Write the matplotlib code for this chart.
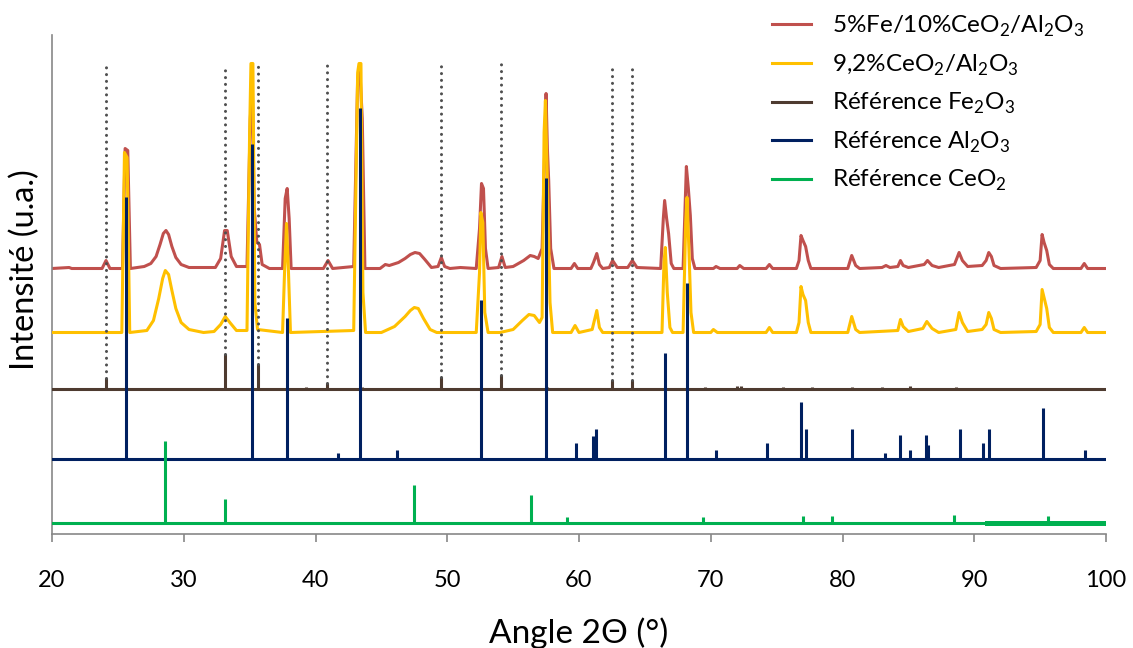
import matplotlib
matplotlib.use("Agg")
import matplotlib.pyplot as plt
import numpy as np

plt.rcParams['font.family'] = ['Lato', 'DejaVu Sans']

# ---------------- data ----------------
labels = ["5%Fe/10%CeO$_\\mathregular{2}$/Al$_\\mathregular{2}$O$_\\mathregular{3}$",
          "9,2%CeO$_\\mathregular{2}$/Al$_\\mathregular{2}$O$_\\mathregular{3}$",
          "Référence Fe$_\\mathregular{2}$O$_\\mathregular{3}$",
          "Référence Al$_\\mathregular{2}$O$_\\mathregular{3}$",
          "Référence CeO$_\\mathregular{2}$"]

# vertical offsets of each pattern (arbitrary units)
off_red, off_yel, off_fe, off_al, off_ce = 265, 201, 145, 75, 11

red_x = [20, 21.3, 21.5, 23.8, 24.1, 24.4, 25.35, 25.55, 25.75, 25.95, 27.0, 27.5, 27.9, 28.2, 28.45,
         28.65, 28.85, 29.1, 29.4, 29.8, 30.4, 32.4, 32.8, 33.1, 33.3, 33.6, 34.0, 34.8, 35.05, 35.2,
         35.35, 35.55, 35.75, 35.95, 36.5, 37.5, 37.7, 37.85, 38.0, 38.15, 40.6, 40.95, 41.3, 42.9,
         43.2, 43.35, 43.55, 43.75, 44.9, 45.3, 45.6, 46.3, 46.8, 47.2, 47.55, 47.9, 48.3, 48.8,
         49.3, 49.55, 49.8, 50.2, 51.0, 52.2, 52.45, 52.6, 52.75, 52.9, 53.1, 53.9, 54.15, 54.4, 55.0,
         55.8, 56.3, 56.6, 56.9, 57.2, 57.4, 57.5, 57.6, 57.7, 57.85, 58.1, 59.4, 59.65, 59.9, 60.9,
         61.1, 61.35, 61.55, 61.8, 62.3, 62.55, 62.9, 63.7, 64.05, 64.4, 66.2, 66.4, 66.5, 66.65,
         66.8, 67.0, 67.2, 67.9, 68.05, 68.15, 68.3, 68.45, 68.6, 68.8, 70.2, 70.4, 70.7, 72.0, 72.2,
         72.5, 74.2, 74.45, 74.7, 76.5, 76.7, 76.85, 77.0, 77.2, 77.4, 77.6, 80.4, 80.7, 81.0, 81.3,
         83.0, 83.3, 83.6, 84.2, 84.4, 84.6, 85.0, 86.2, 86.45, 86.8, 87.3, 88.5, 88.85, 89.1, 89.5,
         90.6, 90.9, 91.1, 91.3, 91.5, 92.0, 94.7, 95.0, 95.15, 95.3, 95.5, 95.7, 96.0, 98.1, 98.35,
         98.6, 100]
red_y = [0, 1, 0, 0, 8, 0, 0, 120, 118, 0, 2, 5, 12, 24, 35,
         38, 34, 22, 11, 4, 1, 1, 10, 38, 38, 12, 2, 2, 150, 186,
         60, 26, 24, 4, 0, 0, 70, 80, 50, 0, 0, 8, 0, 2,
         190, 203, 150, 0, 0, 4, 3, 6, 10, 14, 16, 15, 9, 1,
         2, 11, 2, 0, 1, 0, 40, 85, 80, 20, 0, 1, 12, 1, 2,
         8, 13, 12, 10, 20, 120, 175, 120, 88, 20, 0, 0, 5, 0, 0,
         6, 15, 4, 0, 1, 8, 1, 1, 8, 1, 0, 50, 68, 50,
         35, 5, 0, 0, 60, 102, 80, 53, 10, 0, 0, 2, 0, 0, 3,
         0, 0, 4, 0, 0, 8, 33, 28, 22, 8, 0, 0, 13, 3, 0,
         1, 3, 1, 2, 8, 3, 1, 4, 8, 3, 1, 4, 16, 8, 2,
         3, 8, 16, 12, 3, 0, 1, 8, 34, 26, 18, 4, 0, 0, 5,
         0, 0]

yel_x = [20, 25.3, 25.5, 25.7, 25.9, 27.2, 27.7, 28.1, 28.4, 28.6, 28.85, 29.1, 29.4, 29.8, 30.4,
         31.5, 32.3, 32.8, 33.15, 33.5, 34.0, 34.8, 35.0, 35.1, 35.25, 35.4, 35.6, 37.5, 37.65, 37.8,
         37.95, 38.1, 42.9, 43.2, 43.3, 43.45, 43.6, 43.8, 45.0, 45.5, 46.0, 46.4, 46.8, 47.2, 47.5,
         47.8, 48.2, 48.7, 49.2, 52.2, 52.45, 52.55, 52.7, 52.85, 53.1, 54.0, 55.0, 55.7, 56.2, 56.6,
         57.0, 57.2, 57.35, 57.45, 57.6, 57.8, 58.0, 59.4, 59.7, 60.0, 61.0, 61.2, 61.35, 61.55, 61.8,
         66.3, 66.45, 66.55, 66.7, 66.9, 67.1, 67.9, 68.1, 68.2, 68.35, 68.5, 68.7, 70.0, 70.2, 70.5,
         74.2, 74.45, 74.7, 76.5, 76.7, 76.85, 77.0, 77.2, 77.4, 77.6, 80.4, 80.7, 81.0, 81.3, 84.2,
         84.4, 84.6, 85.0, 86.1, 86.4, 86.8, 87.3, 88.6, 88.85, 89.1, 89.5, 90.6, 90.9, 91.1, 91.3,
         91.5, 92.0, 94.7, 95.0, 95.15, 95.3, 95.5, 95.7, 96.0, 98.1, 98.35, 98.6, 100]
yel_y = [0, 0, 180, 175, 0, 2, 12, 34, 54, 62, 58, 42, 24, 10, 3,
         0, 1, 8, 16, 10, 2, 2, 200, 269, 269, 30, 3, 0, 60, 109,
         60, 0, 2, 260, 269, 269, 40, 0, 0, 3, 6, 11, 16, 22, 25,
         24, 14, 3, 0, 0, 60, 120, 110, 20, 0, 0, 3, 12, 18, 17,
         10, 15, 200, 232, 150, 30, 0, 0, 7, 0, 3, 14, 22, 5, 0,
         0, 70, 85, 40, 5, 0, 0, 110, 135, 80, 20, 0, 0, 3, 0,
         0, 5, 0, 0, 10, 46, 38, 32, 10, 0, 0, 16, 3, 0, 2,
         13, 6, 1, 4, 11, 4, 0, 3, 20, 10, 1, 3, 8, 20, 14,
         3, 0, 1, 8, 43, 35, 24, 5, 0, 0, 5, 0, 0]

fe_pos = [24.1, 33.15, 35.6, 39.3, 40.9, 43.5, 49.5, 54.1, 57.6, 62.5, 64.0, 69.6, 72.0, 72.3,
          75.5, 77.7, 80.7, 83.0, 85.1, 88.6]
fe_int = [11, 35, 25, 2, 6, 2, 12, 14, 2, 9, 9, 2, 3, 3, 2, 2, 2, 2, 3, 2]

fe_marked = [24.1, 33.15, 35.6, 40.9, 49.5, 54.1, 62.5, 64.0]   # dotted guide lines

al_pos = [25.6, 35.15, 37.8, 41.7, 43.35, 46.2, 52.55, 57.5, 59.75, 61.1, 61.3, 66.5, 68.2, 70.4,
          74.3, 76.85, 77.2, 80.7, 83.2, 84.4, 85.1, 86.35, 86.5, 88.95, 90.7, 91.15, 95.25, 98.4]
al_int = [262, 315, 141, 6, 351, 9, 159, 281, 16, 23, 30, 106, 176, 9,
          16, 57, 30, 30, 6, 24, 9, 24, 14, 30, 16, 30, 51, 9]

ce_pos = [28.55, 33.1, 47.5, 56.35, 59.1, 69.4, 77.0, 79.2, 88.5, 95.6]
ce_int = [82, 24, 38, 28, 6, 6, 7, 7, 8, 7]
ce_thick_x = [91.0, 100.0]

x_ticks = [20, 30, 40, 50, 60, 70, 80, 90, 100]

# ---------------- style ----------------
c_red, c_yel, c_fe, c_al, c_ce = "#C0504D", "#FFC000", "#4E3B30", "#002060", "#00B050"
lw = 2.2

fig = plt.figure(figsize=(11.33, 6.48), dpi=100)
ax = fig.add_axes([52 / 1133, 1 - 533.5 / 648, (1106 - 52) / 1133, (533.5 - 35) / 648])

ax.plot(red_x, np.array(red_y) + off_red, color=c_red, lw=lw, label=labels[0], zorder=2)
ax.plot(yel_x, np.array(yel_y) + off_yel, color=c_yel, lw=lw, label=labels[1], zorder=3)

ax.plot([20, 100], [off_fe, off_fe], color=c_fe, lw=lw, label=labels[2], zorder=4)
ax.vlines(fe_pos, off_fe, np.array(fe_int) + off_fe, color=c_fe, lw=lw, zorder=4)

ax.plot([20, 100], [off_al, off_al], color=c_al, lw=lw, label=labels[3], zorder=5)
ax.vlines(al_pos, off_al, np.array(al_int) + off_al, color=c_al, lw=lw, zorder=5)

ax.plot([20, 100], [off_ce, off_ce], color=c_ce, lw=lw, label=labels[4], zorder=6)
ax.plot(ce_thick_x, [off_ce, off_ce], color=c_ce, lw=3.6, zorder=6)
ax.vlines(ce_pos, off_ce, np.array(ce_int) + off_ce, color=c_ce, lw=lw, zorder=6)

fe_lookup = dict(zip(fe_pos, fe_int))
for xp in fe_marked:
    ax.plot([xp, xp], [off_fe + fe_lookup[xp], 470], color="#4F4F4F", lw=2.2,
            linestyle=(0, (0.01, 2.2)), dash_capstyle="round", zorder=7)

ax.set_xlim(20, 100)
ax.set_ylim(0, 498.5)
ax.set_xticks(x_ticks)
ax.set_yticks([])
for s in ["top", "right"]:
    ax.spines[s].set_visible(False)
for s in ["left", "bottom"]:
    ax.spines[s].set_color("#878787")
    ax.spines[s].set_linewidth(1.2)
ax.tick_params(axis="x", direction="out", length=5.5, width=1.2, color="#878787",
               labelsize=17, pad=21)
ax.set_xlabel("Angle 2Θ (°)", fontsize=24, labelpad=19)
ax.set_ylabel("Intensité (u.a.)", fontsize=23.5)
ax.yaxis.set_label_coords(-0.011, 0.529)

fig.legend(loc="upper left", bbox_to_anchor=(772 / 1133, 1 - 14 / 648), frameon=False,
           fontsize=17.5, handlelength=1.6, handletextpad=0.85, labelspacing=0.55,
           borderpad=0, borderaxespad=0)

fig.savefig("out.png", dpi=100)
